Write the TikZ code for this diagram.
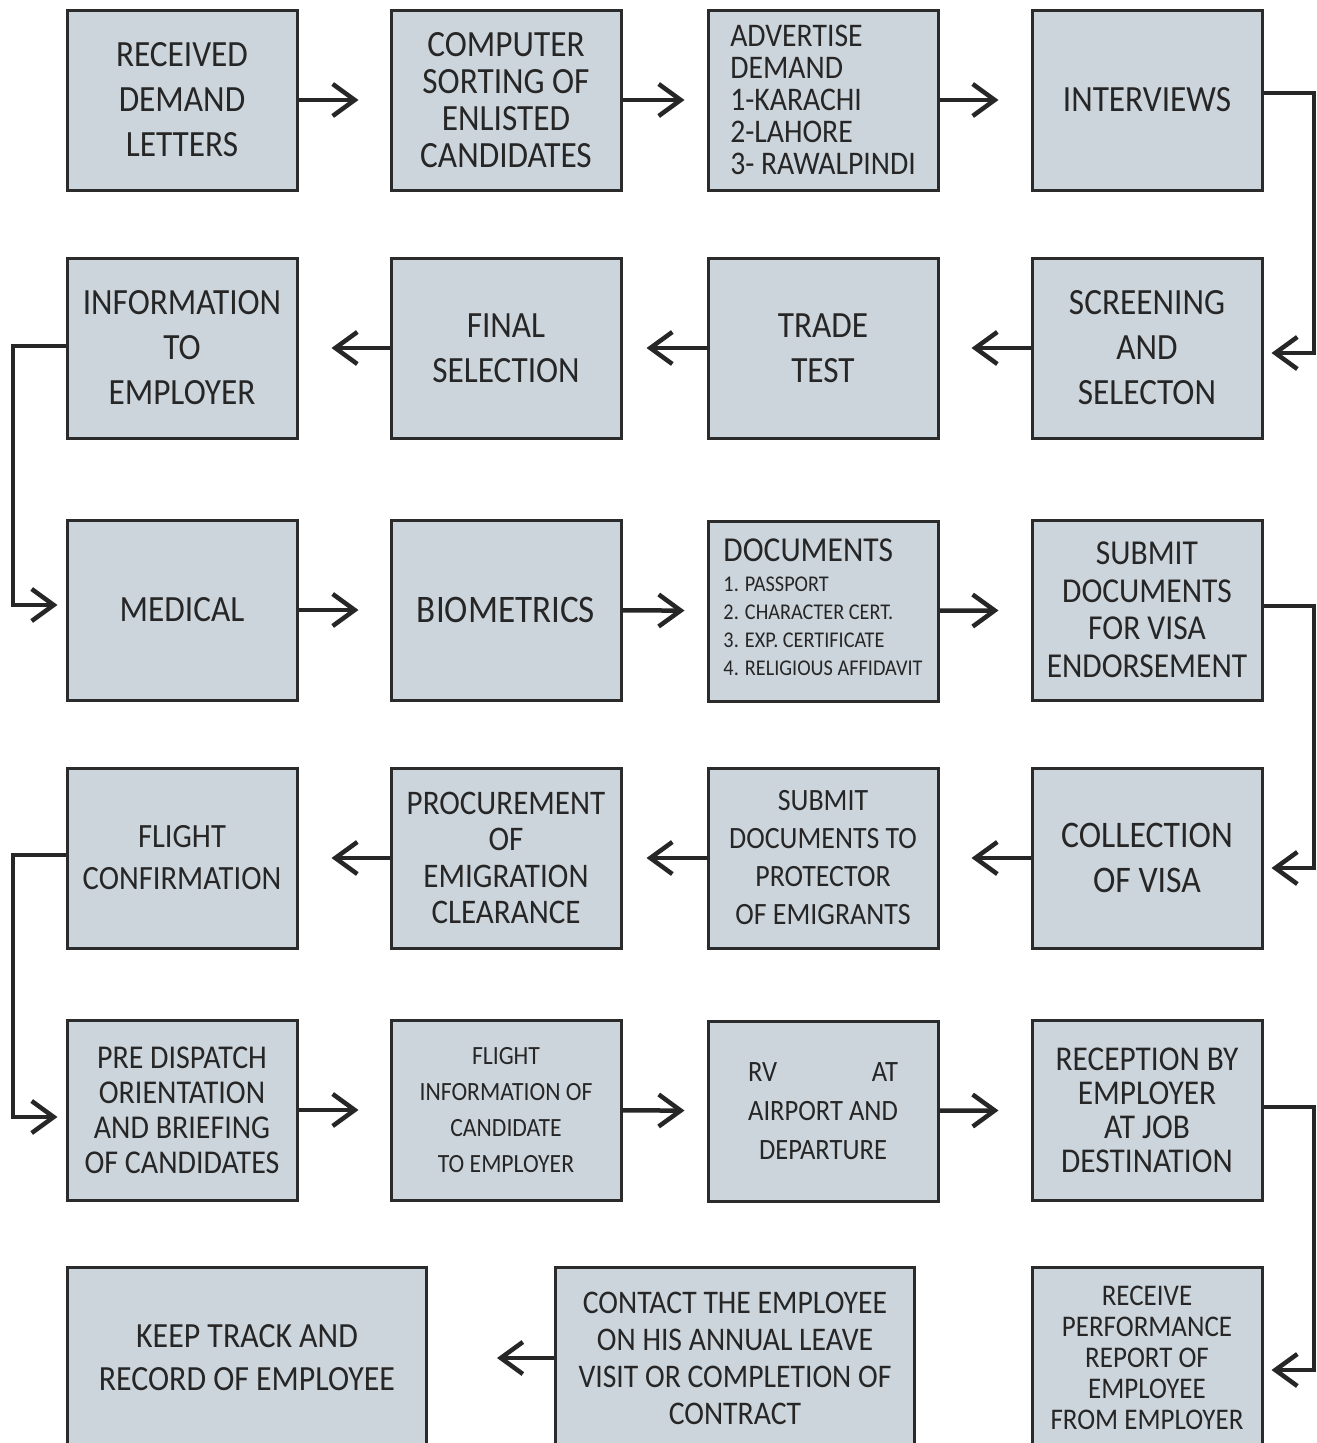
\documentclass[tikz,border=0pt]{standalone}
\usepackage{fontspec}
\setmainfont{Carlito}[FakeStretch=0.9]
\usepackage{tikz}
\usetikzlibrary{arrows.meta}
\definecolor{boxfill}{HTML}{CDD5DC}
\definecolor{boxline}{HTML}{2B2B2B}
\definecolor{ink}{HTML}{262626}
\tikzset{
	box/.style={draw=boxline, fill=boxfill, line width=3pt, minimum width=230pt, minimum height=180pt, inner sep=0pt, text=ink, align=center},
	wide/.style={minimum width=359pt, minimum height=182pt},
	fs/.style 2 args={font=\fontsize{#1}{#2}\selectfont},
	arr/.style={draw=ink, line width=4.5pt, -{Straight Barb[length=22pt,width=32pt]}, shorten >=30pt},
}

\begin{document}
\begin{tikzpicture}[x=1pt,y=-1pt]
	\useasboundingbox (0,0) rectangle (1317,1443);
	\clip (0,0) rectangle (1317,1443);

	\coordinate (railr) at (1314,0);
	\coordinate (raill) at (13,0);

	\node[box,fs={37}{45}] (rec) at (182,100) {RECEIVED\\DEMAND\\LETTERS};
	\node[box,fs={37}{37}] (sort) at (506,100) {COMPUTER\\SORTING OF\\ENLISTED\\CANDIDATES};
	\node[box,fs={33}{32},align=left] (adv) at (823,100) {ADVERTISE\\DEMAND\\1-KARACHI\\2-LAHORE\\3- RAWALPINDI};
	\node[box,fs={37}{45}] (int) at (1147,100) {INTERVIEWS};

	\node[box,fs={37}{45}] (info) at (182,348) {INFORMATION\\TO\\EMPLOYER};
	\node[box,fs={37}{45}] (final) at (506,348) {FINAL\\SELECTION};
	\node[box,fs={37}{45}] (trade) at (823,348) {TRADE\\TEST};
	\node[box,fs={37}{45}] (scr) at (1147,348) {SCREENING\\AND\\SELECTON};

	\node[box,fs={37}{45}] (med) at (182,610) {MEDICAL};
	\node[box,fs={39}{45}] (bio) at (506,610) {BIOMETRICS};
	\node[box,fs={35}{35},align=left] (docs) at (823,611) {DOCUMENTS\\[9pt]
		{\fontsize{22.5}{28}\selectfont\begin{tabular}{@{}l@{}}1. PASSPORT\\2. CHARACTER CERT.\\3. EXP. CERTIFICATE\\4. RELIGIOUS AFFIDAVIT\end{tabular}}};
	\node[box,fs={35}{37.5}] (sub) at (1147,610) {SUBMIT\\DOCUMENTS\\FOR VISA\\ENDORSEMENT};

	\node[box,fs={34}{42}] (flight) at (182,858) {FLIGHT\\CONFIRMATION};
	\node[box,fs={34.5}{36.5}] (proc) at (506,858) {PROCUREMENT\\OF\\EMIGRATION\\CLEARANCE};
	\node[box,fs={31}{38}] (prot) at (823,858) {SUBMIT\\DOCUMENTS TO\\PROTECTOR\\OF EMIGRANTS};
	\node[box,fs={37.5}{45}] (coll) at (1147,858) {COLLECTION\\OF VISA};

	\node[box,fs={33.3}{35}] (pre) at (182,1110) {PRE DISPATCH\\ORIENTATION\\AND BRIEFING\\OF CANDIDATES};
	\node[box,fs={26.3}{36}] (finfo) at (506,1110) {FLIGHT\\INFORMATION OF\\CANDIDATE\\TO EMPLOYER};
	\node[box,fs={29.5}{39}] (rv) at (823,1111) {\makebox[150pt]{RV\hfill AT}\\AIRPORT AND\\DEPARTURE};
	\node[box,fs={34.8}{34}] (recp) at (1147,1110) {RECEPTION BY\\EMPLOYER\\AT JOB\\DESTINATION};

	\node[box,wide,fs={35.4}{43}] (keep) at (247,1358) {KEEP TRACK AND\\RECORD OF EMPLOYEE};
	\node[box,wide,fs={33}{37}] (cont) at (735,1358) {CONTACT THE EMPLOYEE\\ON HIS ANNUAL LEAVE\\VISIT OR COMPLETION OF\\CONTRACT};
	\node[box,minimum height=182pt,fs={30}{31}] (recv) at (1147,1358) {RECEIVE\\PERFORMANCE\\REPORT OF\\EMPLOYEE\\FROM EMPLOYER};

	% left to right rows
	\draw[arr,shorten >=31pt] (rec) -- (sort);
	\draw[arr,shorten >=22pt] (sort) -- (adv);
	\draw[arr,shorten >=32pt] (adv) -- (int);
	\draw[arr,shorten >=31pt] (med) -- (bio);
	\draw[arr,shorten >=22pt] (bio) -- (docs);
	\draw[arr,shorten >=32pt] (docs) -- (sub);
	\draw[arr,shorten >=31pt] (pre) -- (finfo);
	\draw[arr,shorten >=22pt] (finfo) -- (rv);
	\draw[arr,shorten >=32pt] (rv) -- (recp);

	% right to left rows
	\draw[arr,shorten >=32pt] (scr) -- (trade);
	\draw[arr,shorten >=24pt] (trade) -- (final);
	\draw[arr,shorten >=33pt] (final) -- (info);
	\draw[arr,shorten >=32pt] (coll) -- (prot);
	\draw[arr,shorten >=24pt] (prot) -- (proc);
	\draw[arr,shorten >=33pt] (proc) -- (flight);
	\draw[arr,shorten >=69pt] (cont) -- (keep);

	% turns
	\draw[arr,shorten >=8pt] ([yshift=7pt]int.east) -- ([yshift=7pt]int.east -| railr) |- ([yshift=-5pt]scr.east);
	\draw[arr,shorten >=8pt] ([yshift=4pt]sub.east) -- ([yshift=4pt]sub.east -| railr) |- ([yshift=-10pt]coll.east);
	\draw[arr,shorten >=8pt] ([yshift=3pt]recp.east) -- ([yshift=3pt]recp.east -| railr) |- ([yshift=-12pt]recv.east);
	\draw[arr,shorten >=8pt] ([yshift=2pt]info.west) -- ([yshift=2pt]info.west -| raill) |- ([yshift=5pt]med.west);
	\draw[arr,shorten >=8pt] ([yshift=3pt]flight.west) -- ([yshift=3pt]flight.west -| raill) |- ([yshift=-7pt]pre.west);
\end{tikzpicture}
\end{document}
